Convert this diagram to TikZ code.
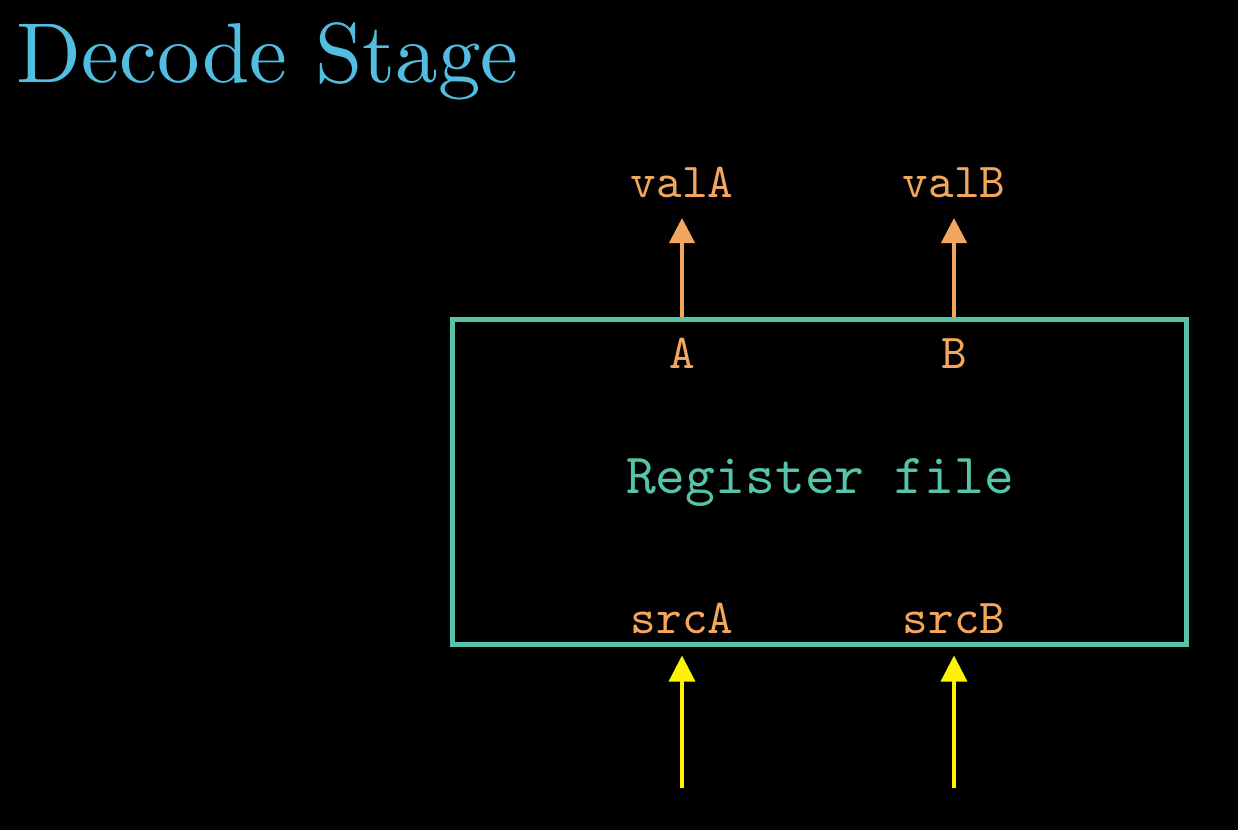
\documentclass[tikz,border=0pt]{standalone}
\usepackage{fontspec}
\newfontfamily\titlefont{lmroman10-regular}[Extension=.otf]
\newfontfamily\monofont{lmmono10-regular}[Extension=.otf]
\usetikzlibrary{arrows.meta}
\definecolor{titleblue}{HTML}{52BDE0}
\definecolor{boxteal}{HTML}{55C4A8}
\definecolor{lblorange}{HTML}{F3A75E}
\definecolor{inyellow}{HTML}{FFF200}
\tikzset{
  titletext/.style={text=titleblue, font=\titlefont\fontsize{42.5}{50}\selectfont, inner sep=0pt},
  regbox/.style={draw=boxteal, line width=2.5pt, minimum width=367pt, minimum height=162.5pt, inner sep=0pt},
  boxtext/.style={text=boxteal, font=\monofont\fontsize{28.4}{34}\selectfont, inner sep=0pt},
  lbl/.style={text=lblorange, font=\monofont\fontsize{24.4}{28}\selectfont, inner sep=0pt},
  outarrow/.style={draw=lblorange, line width=2pt, -{Triangle[width=12.5pt,length=12.5pt]}},
  inarrow/.style={draw=inyellow, line width=1.6pt, -{Triangle[width=13pt,length=13pt]}}
}
\begin{document}
\begin{tikzpicture}[x=0.5pt,y=-0.5pt]
\fill[black] (0,0) rectangle (1238,830);
\useasboundingbox (0,0) rectangle (1238,830);
\node[titletext, anchor=base west] (title) at (16.5,82) {Decode Stage};
\node[regbox] (rf) at (819,481.5) {};
\node[boxtext, anchor=base] (rftext) at (820,493) {Register file};
\node[lbl, anchor=base] (valA) at (682,197) {valA};
\node[lbl, anchor=base] (valB) at (954,197) {valB};
\node[lbl, anchor=base] (portA) at (682,368) {A};
\node[lbl, anchor=base] (portB) at (954,368) {B};
\node[lbl, anchor=base] (srcA) at (682,633) {srcA};
\node[lbl, anchor=base] (srcB) at (954,633) {srcB};
\coordinate (tipA) at (682,218);
\coordinate (tipB) at (954,218);
\coordinate (tailA) at (682,788);
\coordinate (tailB) at (954,788);
\draw[outarrow] (rf.north -| portA) -- (tipA);
\draw[outarrow] (rf.north -| portB) -- (tipB);
\draw[inarrow, shorten >=4.5pt] (tailA) -- (rf.south -| srcA);
\draw[inarrow, shorten >=4.5pt] (tailB) -- (rf.south -| srcB);
\end{tikzpicture}
\end{document}
